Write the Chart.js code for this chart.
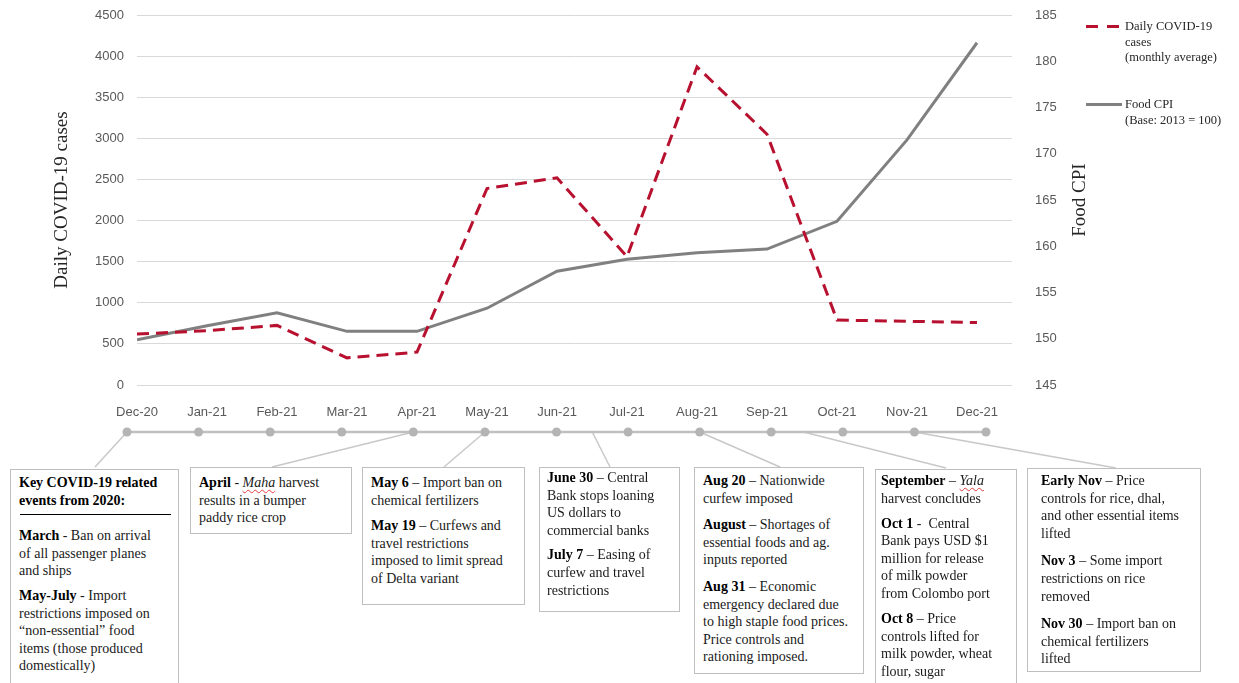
<!DOCTYPE html>
<html>
<head>
<meta charset="utf-8">
<script src="https://cdn.jsdelivr.net/npm/chart.js@4.4.1/dist/chart.umd.min.js"></script>
<style>
  html, body { margin: 0; padding: 0; background: #fff; overflow: hidden; }
  body { width: 1239px; height: 683px; position: relative; font-family: 'Liberation Serif', 'Times New Roman', serif; color: #1a1a1a; }
  #grafico { position: absolute; left: 0; top: 0; }
  #linhaTempo { position: absolute; left: 0; top: 400px; }
  .caixa { position: absolute; box-sizing: border-box; border: 1px solid #bfbfbf; background: #fff; font-size: 14px; line-height: 17.6px; white-space: nowrap; overflow: hidden; }
  .caixa p { margin: 0 0 8px 0; }
  .caixa b { color: #000; }
  .ondulado { text-decoration: underline wavy #e0403f; text-decoration-thickness: 1px; text-underline-offset: 2px; }
  .amostra { position: absolute; height: 3px; }
  .legenda { position: absolute; left: 1125px; font-size: 12.5px; line-height: 15.5px; color: #262626; white-space: nowrap; }
</style>
</head>
<body>
<canvas id="grafico" width="1239" height="420"></canvas>
<canvas id="linhaTempo" width="1239" height="283"></canvas>

<div class="amostra" style="left:1086px;top:25px;width:12px;background:#b8102f"></div>
<div class="amostra" style="left:1107px;top:25px;width:12px;background:#b8102f"></div>
<div class="legenda" style="top:19px">Daily COVID-19<br>cases<br>(monthly average)</div>
<div class="amostra" style="left:1086px;top:103px;width:36px;background:#808080"></div>
<div class="legenda" style="top:97px">Food CPI<br>(Base: 2013 = 100)</div>

<div class="caixa" style="left:10px;top:469px;width:169px;height:240px;padding:4px 6px 0 8px">
  <p style="margin:0"><b>Key COVID-19 related<br>events from 2020:</b></p>
  <div style="border-top:1px solid #000;margin:5px 0 12px 1px;width:151px"></div>
  <p style="margin-bottom:7px"><b>March</b> - Ban on arrival<br>of all passenger planes<br>and ships</p>
  <p><b>May-July</b> - Import<br>restrictions imposed on<br>“non-essential” food<br>items (those produced<br>domestically)</p>
</div>

<div class="caixa" style="left:190px;top:467px;width:162px;height:67px;padding:6px 6px 0 8px">
  <p><b>April</b> - <i class="ondulado">Maha</i> harvest<br>results in a bumper<br>paddy rice crop</p>
</div>

<div class="caixa" style="left:362px;top:467px;width:163px;height:138px;padding:6px 6px 0 8px">
  <p><b>May 6</b> – Import ban on<br>chemical fertilizers</p>
  <p><b>May 19</b> – Curfews and<br>travel restrictions<br>imposed to limit spread<br>of Delta variant</p>
</div>

<div class="caixa" style="left:539px;top:467px;width:141px;height:145px;padding:1px 6px 0 7px">
  <p style="margin-bottom:7px"><b>June 30</b> – Central<br>Bank stops loaning<br>US dollars to<br>commercial banks</p>
  <p><b>July 7</b> – Easing of<br>curfew and travel<br>restrictions</p>
</div>

<div class="caixa" style="left:694px;top:467px;width:170px;height:207px;padding:4px 6px 0 8px">
  <p style="margin-bottom:9px"><b>Aug 20</b> – Nationwide<br>curfew imposed</p>
  <p style="margin-bottom:9px"><b>August</b> – Shortages of<br>essential foods and ag.<br>inputs reported</p>
  <p><b>Aug 31</b> – Economic<br>emergency declared due<br>to high staple food prices.<br>Price controls and<br>rationing imposed.</p>
</div>

<div class="caixa" style="left:875px;top:469px;width:142px;height:240px;padding:2px 4px 0 5px">
  <p style="margin-bottom:7.5px"><b>September</b> – <i class="ondulado">Yala</i><br>harvest concludes</p>
  <p style="margin-bottom:7.5px"><b>Oct 1</b> -&nbsp; Central<br>Bank pays USD $1<br>million for release<br>of milk powder<br>from Colombo port</p>
  <p><b>Oct 8</b> – Price<br>controls lifted for<br>milk powder, wheat<br>flour, sugar</p>
</div>

<div class="caixa" style="left:1027px;top:468px;width:174px;height:204px;padding:3px 4px 0 13px">
  <p style="margin-bottom:10px"><b>Early Nov</b> – Price<br>controls for rice, dhal,<br>and other essential items<br>lifted</p>
  <p style="margin-bottom:10px"><b>Nov 3</b> – Some import<br>restrictions on rice<br>removed</p>
  <p><b>Nov 30</b> – Import ban on<br>chemical fertilizers<br>lifted</p>
</div>

<script>
const meses = ['Dec-20', 'Jan-21', 'Feb-21', 'Mar-21', 'Apr-21', 'May-21', 'Jun-21',
               'Jul-21', 'Aug-21', 'Sep-21', 'Oct-21', 'Nov-21', 'Dec-21'];

// media mensal de casos diarios (eixo esquerdo)
const casosCovid = [620, 660, 725, 330, 400, 2390, 2520, 1560, 3870, 3050, 790, 775, 760];

// IPC de alimentos, base 2013 = 100 (eixo direito)
const ipcAlimentos = [149.9, 151.4, 152.8, 150.8, 150.8, 153.3, 157.3, 158.6, 159.3, 159.7, 162.7, 171.5, 182.0];

const ticksCasos = { min: 0, max: 4500, passo: 500 };
const ticksIpc = { min: 145, max: 185, passo: 5 };

// pontos da linha do tempo (um por mes)
const linhaBase = [0, 0, 0, 0, 0, 0, 0, 0, 0, 0, 0, 0, 0];

const fonteTicks = { family: "'Liberation Sans', Arial, sans-serif", size: 13 };
const fonteTitulo = { family: "'Liberation Serif', 'Times New Roman', serif", size: 19 };

// titulo do eixo direito, lido de baixo para cima como o esquerdo
const pluginTituloDireito = {
    id: 'tituloDireito',
    afterDraw(chart) {
        const ctx = chart.ctx;
        const area = chart.chartArea;
        ctx.save();
        ctx.translate(1080, (area.top + area.bottom) / 2);
        ctx.rotate(-Math.PI / 2);
        ctx.font = fonteTitulo.size + 'px ' + fonteTitulo.family;
        ctx.fillStyle = '#262626';
        ctx.textAlign = 'center';
        ctx.textBaseline = 'middle';
        ctx.fillText('Food CPI', 0, 0);
        ctx.restore();
    }
};

const graficoPrincipal = new Chart(document.getElementById('grafico'), {
    type: 'line',
    data: {
        datasets: [{
            label: 'Daily COVID-19 cases (monthly average)',
            data: casosCovid.map((v, i) => ({ x: i, y: v })),
            yAxisID: 'y',
            borderColor: '#b8102f',
            borderWidth: 3,
            borderDash: [12, 7],
            pointRadius: 0,
            tension: 0
        }, {
            label: 'Food CPI (Base: 2013 = 100)',
            data: ipcAlimentos.map((v, i) => ({ x: i, y: v })),
            yAxisID: 'y1',
            borderColor: '#808080',
            borderWidth: 3,
            pointRadius: 0,
            tension: 0
        }]
    },
    options: {
        responsive: false,
        animation: false,
        layout: { padding: { left: 47, right: 144, top: 15, bottom: 0 } },
        plugins: { legend: { display: false }, tooltip: { enabled: false } },
        scales: {
            x: {
                type: 'linear',
                min: 0,
                max: 12.5,
                grid: { display: false },
                border: { display: false },
                afterBuildTicks: (eixo) => { eixo.ticks = meses.map((m, i) => ({ value: i })); },
                afterFit: (eixo) => { eixo.height = 35; },
                ticks: {
                    callback: (v) => meses[v],
                    padding: 12,
                    maxRotation: 0,
                    autoSkip: false,
                    font: fonteTicks,
                    color: '#595959'
                }
            },
            y: {
                position: 'left',
                min: ticksCasos.min,
                max: ticksCasos.max,
                ticks: { stepSize: ticksCasos.passo, padding: 13, font: fonteTicks, color: '#595959', callback: (v) => String(v) },
                grid: { color: '#d9d9d9', drawTicks: false },
                border: { display: false },
                title: { display: true, text: 'Daily COVID-19 cases', font: fonteTitulo, color: '#262626', padding: { top: 4, bottom: 0 } },
                afterFit: (eixo) => { eixo.width = 90; eixo.paddingTop = 0; eixo.paddingBottom = 0; }
            },
            y1: {
                position: 'right',
                min: ticksIpc.min,
                max: ticksIpc.max,
                ticks: { stepSize: ticksIpc.passo, padding: 15, font: fonteTicks, color: '#595959', callback: (v) => String(v) },
                grid: { display: false },
                border: { display: false },
                afterFit: (eixo) => { eixo.width = 83; eixo.paddingTop = 0; eixo.paddingBottom = 0; }
            }
        }
    },
    plugins: [pluginTituloDireito]
});

// ligacoes entre a linha do tempo e as caixas de eventos
const conectores = [
    { mes: 0, ate: [95, 467] },
    { mes: 4, ate: [272, 467] },
    { mes: 5, ate: [444, 467] },
    { mes: 6.5, ate: [610, 467] },
    { mes: 8, ate: [780, 467] },
    { mes: 9.45, ate: [946, 468] },
    { mes: 11, ate: [1116, 468] }
];

const pluginConectores = {
    id: 'conectores',
    beforeDatasetsDraw(chart) {
        const ctx = chart.ctx;
        const eixoX = chart.scales.x;
        const y0 = chart.scales.y.getPixelForValue(0);
        ctx.save();
        ctx.strokeStyle = '#c8c8c8';
        ctx.lineWidth = 1.5;
        conectores.forEach(c => {
            ctx.beginPath();
            ctx.moveTo(eixoX.getPixelForValue(c.mes), y0);
            ctx.lineTo(c.ate[0], c.ate[1] - 400);
            ctx.stroke();
        });
        ctx.restore();
    }
};

const graficoTempo = new Chart(document.getElementById('linhaTempo'), {
    type: 'line',
    data: {
        labels: meses,
        datasets: [{
            data: linhaBase,
            borderColor: '#c0c0c0',
            borderWidth: 2.5,
            pointRadius: 4.5,
            pointBackgroundColor: '#b4b4b4',
            pointBorderWidth: 0,
            clip: false
        }]
    },
    options: {
        responsive: false,
        animation: false,
        layout: { padding: { left: 127, right: 253, top: 22, bottom: 241 } },
        plugins: { legend: { display: false }, tooltip: { enabled: false } },
        scales: {
            x: { type: 'category', display: false, offset: false },
            y: { display: false, min: -1, max: 1 }
        }
    },
    plugins: [pluginConectores]
});
</script>
</body>
</html>
